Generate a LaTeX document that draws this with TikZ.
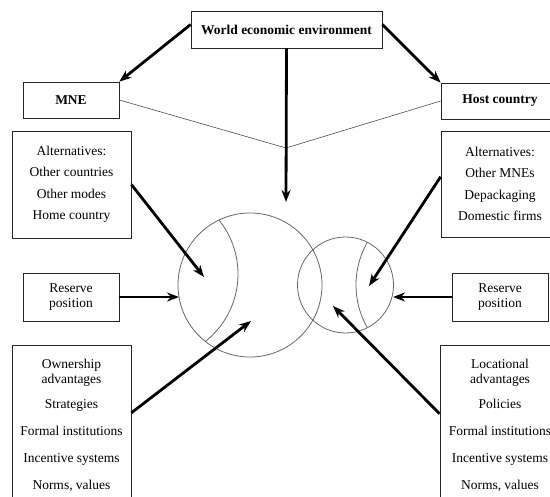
\documentclass[tikz,border=0pt]{standalone}
\usepackage{fontspec}
\setmainfont{Liberation Serif}
\usetikzlibrary{arrows.meta,positioning}

\begin{document}
\begin{tikzpicture}[x=1pt, y=-1pt,
    factor/.style={rectangle, draw=black!85, line width=0.7pt, align=center, inner sep=0pt,
                 font=\fontsize{13.5}{15}\selectfont},
    actor/.style={factor, font=\fontsize{13.5}{15}\selectfont\bfseries},
    arr/.style={-{Stealth[length=12pt, width=9pt]}, line width=2.8pt},
    ring/.style={draw=black!60, line width=0.8pt},
    link/.style={draw=black!70, line width=0.6pt}
]
    \useasboundingbox (0,0) rectangle (550,497);
    \clip (0,0) rectangle (550,497);

    % actors
    \node[actor, minimum width=191pt, minimum height=37pt] (wee) at (286.5,29.5) {World economic environment};
    \node[actor, minimum width=96pt, minimum height=36pt] (mne) at (71,100) {MNE};
    \node[actor, minimum width=118pt, minimum height=36pt] (host) at (500,101) {Host country};

    % factors on both sides
    \node[factor, minimum width=119pt, minimum height=107pt] (altL) at (71.5,184.5) {Alternatives:\\[6.5pt]Other countries\\[6.5pt]Other modes\\[6.5pt]Home country};
    \node[factor, minimum width=118pt, minimum height=106pt] (altR) at (500,184) {Alternatives:\\[6.5pt]Other MNEs\\[6.5pt]Depackaging\\[6.5pt]Domestic firms};
    \node[factor, minimum width=96pt, minimum height=48pt] (resL) at (71,297) {Reserve\\position};
    \node[factor, minimum width=96pt, minimum height=48pt] (resR) at (500,297) {Reserve\\position};
    \node[factor, minimum width=119pt, inner ysep=14pt, anchor=north] (ownL) at (71.5,345) {Ownership\\advantages\\[10pt]Strategies\\[12pt]Formal institutions\\[12pt]Incentive systems\\[12pt]Norms, values};
    \node[factor, minimum width=120pt, inner ysep=14pt, anchor=north] (locR) at (500,345) {Locational\\advantages\\[10pt]Policies\\[12pt]Formal institutions\\[12pt]Incentive systems\\[12pt]Norms, values};

    % bargaining circles
    \node[circle, ring, minimum size=144pt, inner sep=0pt] (firm) at (250,285) {};
    \node[circle, ring, minimum size=96pt, inner sep=0pt] (country) at (345.5,285) {};
    \begin{scope}
        \clip (250,285) circle (72pt);
        \draw[ring] (152,274) circle (86pt);
    \end{scope}
    \begin{scope}
        \clip (345.5,285) circle (48pt);
        \draw[ring] (442,285) circle (86pt);
    \end{scope}

    \coordinate (meet) at (286,148);
    \coordinate (drop) at (286,202);
    \coordinate (altLtip) at (204,277);
    \coordinate (altRtip) at (369,286);
    \coordinate (resLtip) at (179,297);
    \coordinate (resRtip) at (393,297);
    \coordinate (ownLtip) at (251,321);
    \coordinate (locRtip) at (333,306);

    \draw[link] (mne.east) -- (meet) -- (host.west);

    \draw[arr] (wee.177) -- (mne.north east);
    \draw[arr] (wee.3) -- (host.north west);
    \draw[arr] (wee.south) -- (drop);
    \draw[arr] (altL.east) -- (altLtip);
    \draw[arr] (altR.173) -- (altRtip);
    \draw[arr] (resL.east) -- (resLtip);
    \draw[arr] (resR.west) -- (resRtip);
    \draw[arr] (ownL.12) -- (ownLtip);
    \draw[arr] (locR.169) -- (locRtip);
\end{tikzpicture}
\end{document}
